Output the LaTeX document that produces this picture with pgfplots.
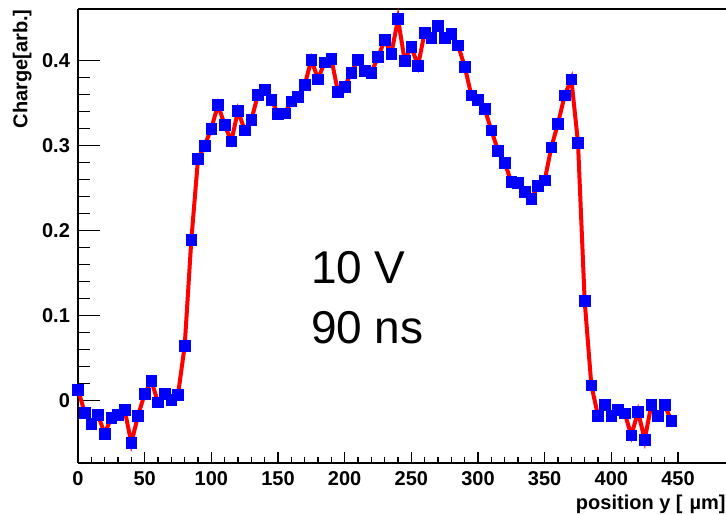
\documentclass[border=0pt]{standalone}
\usepackage{pgfplots}
\pgfplotsset{compat=1.18}
\usepackage{fontspec}
\setmainfont{Liberation Sans}
\pgfplotstableread{
x y
0 0.013
5 -0.014
10 -0.027
15 -0.017
20 -0.039
25 -0.020
30 -0.017
35 -0.011
40 -0.050
45 -0.018
50 0.008
55 0.023
60 -0.002
65 0.008
70 0.001
75 0.007
80 0.064
85 0.189
90 0.284
95 0.300
100 0.320
105 0.348
110 0.324
115 0.305
120 0.341
125 0.318
130 0.330
135 0.360
140 0.366
145 0.354
150 0.337
155 0.338
160 0.352
165 0.357
170 0.371
175 0.401
180 0.378
185 0.398
190 0.402
195 0.363
200 0.369
205 0.386
210 0.401
215 0.388
220 0.386
225 0.404
230 0.424
235 0.408
240 0.449
245 0.400
250 0.416
255 0.394
260 0.433
265 0.427
270 0.441
275 0.427
280 0.431
285 0.418
290 0.393
295 0.359
300 0.354
305 0.343
310 0.318
315 0.294
320 0.280
325 0.257
330 0.256
335 0.246
340 0.237
345 0.253
350 0.259
355 0.298
360 0.326
365 0.359
370 0.378
375 0.303
380 0.117
385 0.018
390 -0.018
395 -0.005
400 -0.018
405 -0.011
410 -0.015
415 -0.041
420 -0.013
425 -0.046
430 -0.005
435 -0.018
440 -0.005
445 -0.024
}\chargedata
\begin{document}
\begin{tikzpicture}
\useasboundingbox (-39pt,-25.5pt) rectangle (324pt,231.5pt);
\pgfplotsset{common/.style={
  width=324pt, height=227pt, scale only axis,
  at={(0,0)}, anchor=south west,
  xmin=0, xmax=486, ymin=-0.0735, ymax=0.4606,
  tick align=inside,
  axis line style={line width=0.7pt, black},
  every tick/.style={black, line width=0.6pt},
  /pgf/number format/assume math mode=true,
  tick label style={font=\fontsize{10}{12}\selectfont\bfseries},
}}
\begin{axis}[common,
  axis x line*=box, axis y line*=left,
  xtick=\empty,
  ytick={0,0.1,0.2,0.3,0.4}, minor y tick num=4,
  ytick pos=left,
  major tick length=11pt, minor tick length=6pt,
  yticklabel style={/pgf/number format/fixed, /pgf/number format/precision=1, xshift=-0.5pt},
  ylabel={Charge[arb.]},
  ylabel style={at={(axis description cs:-0.071,1)}, anchor=south east, inner sep=0pt, font=\fontsize{10}{12}\selectfont\bfseries},
  clip=false,
]
\addplot[red, line width=2pt, mark=square*, mark size=2.7pt,
  mark options={solid, fill=blue, draw=blue, line width=0.3pt}]
  table[x=x, y=y] {\chargedata};
\node[anchor=base west, inner sep=0pt, font=\fontsize{23}{28}\selectfont] at (axis cs:174.5,0.1379) {10 V};
\node[anchor=base west, inner sep=0pt, font=\fontsize{23}{28}\selectfont] at (axis cs:174.5,0.0673) {90 ns};
\end{axis}
\begin{axis}[common,
  axis x line*=bottom, axis y line=none,
  ytick=\empty,
  xtick={0,50,...,450}, minor x tick num=4,
  major tick length=5.7pt, minor tick length=3pt,
  xticklabel style={yshift=-0.5pt},
  xlabel={position y [\hspace{0.35em}µm]},
  xlabel style={at={(axis description cs:1,-0.0705)}, anchor=north east, inner sep=0pt, font=\fontsize{10}{12}\selectfont\bfseries},
]
\end{axis}
\end{tikzpicture}
\end{document}
